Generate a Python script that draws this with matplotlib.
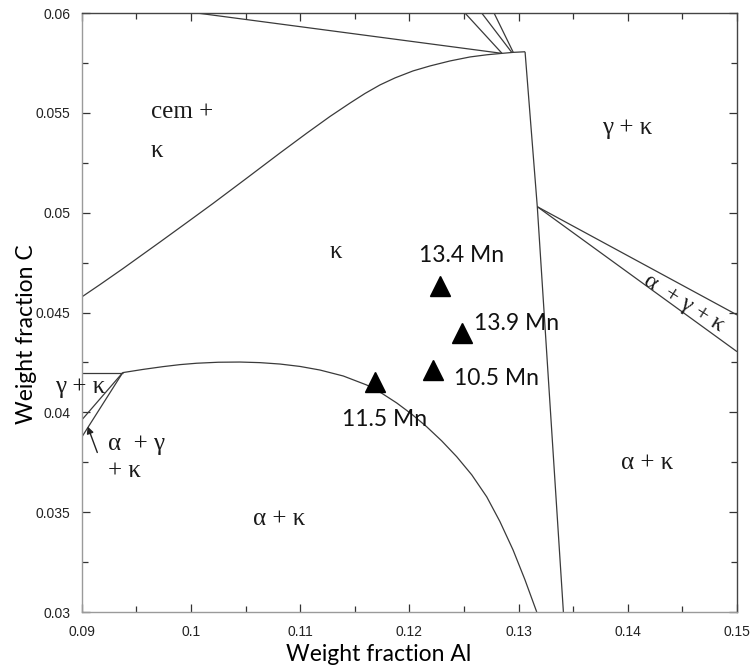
import matplotlib
matplotlib.use("Agg")
import matplotlib.pyplot as plt
from matplotlib.ticker import MultipleLocator

# ---- phase boundary data (weight fraction Al, weight fraction C) ----
cem_kappa_al = [0.0900, 0.09167, 0.09377, 0.09716, 0.09963, 0.10201, 0.10513, 0.10815, 0.11062,
                0.11273, 0.11456, 0.11593, 0.11731, 0.11868, 0.12033, 0.12189, 0.12372, 0.12555,
                0.12711, 0.12848]
cem_kappa_c = [0.04578, 0.04640, 0.04720, 0.04853, 0.04951, 0.05046, 0.05174, 0.05299, 0.05399,
               0.05482, 0.05549, 0.05597, 0.05640, 0.05675, 0.05710, 0.05735, 0.05760, 0.05780,
               0.05791, 0.05798]

top_line_al = [0.10055, 0.12848, 0.12951, 0.13059]
top_line_c = [0.0600, 0.05798, 0.05803, 0.05806]

fan1_al = [0.12509, 0.12848]
fan1_c = [0.0600, 0.05798]
fan2_al = [0.12662, 0.12937]
fan2_c = [0.0600, 0.05803]
fan3_al = [0.12775, 0.12951]
fan3_c = [0.0600, 0.05803]

steep_al = [0.13059, 0.13171, 0.13410]
steep_c = [0.05806, 0.05030, 0.0300]

agk_upper_al = [0.13171, 0.1500]
agk_upper_c = [0.05030, 0.04488]
agk_lower_al = [0.13171, 0.1500]
agk_lower_c = [0.05030, 0.04304]

kappa_alpha_al = [0.09375, 0.09560, 0.09744, 0.09898, 0.10052, 0.10250, 0.10449, 0.10632,
                  0.10815, 0.10998, 0.11181, 0.11395, 0.11609, 0.11746, 0.11884, 0.12021,
                  0.12158, 0.12296, 0.12433, 0.12571, 0.12708, 0.12828, 0.12949, 0.13057,
                  0.13166]
kappa_alpha_c = [0.04199, 0.04215, 0.04229, 0.04239, 0.04246, 0.04251, 0.04252, 0.04249,
                 0.04242, 0.04230, 0.04212, 0.04182, 0.04137, 0.04096, 0.04047, 0.03991,
                 0.03928, 0.03857, 0.03778, 0.03687, 0.03577, 0.03454, 0.03311, 0.03163,
                 0.0300]

left_h_al = [0.0900, 0.09375]
left_h_c = [0.04199, 0.04199]
left_a_al = [0.09375, 0.0900]
left_a_c = [0.04199, 0.03962]
left_b_al = [0.09375, 0.0900]
left_b_c = [0.04199, 0.03876]

# ---- alloy compositions ----
alloy_labels = ["13.4 Mn", "13.9 Mn", "10.5 Mn", "11.5 Mn"]
alloy_al = [0.1228, 0.12484, 0.12219, 0.11685]
alloy_c = [0.04633, 0.04397, 0.04212, 0.04152]

xticks = [0.09, 0.10, 0.11, 0.12, 0.13, 0.14, 0.15]
xtick_labels = ["0.09", "0.1", "0.11", "0.12", "0.13", "0.14", "0.15"]
yticks = [0.03, 0.035, 0.04, 0.045, 0.05, 0.055, 0.06]
ytick_labels = ["0.03", "0.035", "0.04", "0.045", "0.05", "0.055", "0.06"]

fig = plt.figure(figsize=(7.53, 6.68), dpi=100)
ax = fig.add_axes([0.1086, 0.0838, 0.9788 - 0.1086, 0.9805 - 0.0838])
ax.set_xlim(0.09, 0.15)
ax.set_ylim(0.03, 0.06)

lc = "#3a3a3a"
lw = 0.9
for xs, ys in [(cem_kappa_al, cem_kappa_c), (top_line_al, top_line_c),
               (fan1_al, fan1_c), (fan2_al, fan2_c), (fan3_al, fan3_c),
               (steep_al, steep_c), (agk_upper_al, agk_upper_c), (agk_lower_al, agk_lower_c),
               (kappa_alpha_al, kappa_alpha_c), (left_h_al, left_h_c),
               (left_a_al, left_a_c), (left_b_al, left_b_c)]:
    ax.plot(xs, ys, color=lc, lw=lw, solid_capstyle="butt", solid_joinstyle="round")

ax.plot(alloy_al, alloy_c, linestyle="none", marker="^", markersize=14, color="black")

sans = ["Lato", "DejaVu Sans"]
label_pos = {"13.4 Mn": (0.12482, 0.04788), "13.9 Mn": (0.12985, 0.04447),
             "10.5 Mn": (0.12793, 0.0417), "11.5 Mn": (0.11777, 0.03962)}
for lab in alloy_labels:
    x, y = label_pos[lab]
    ax.text(x, y, lab, ha="center", va="center", fontsize=16.5, family=sans, color="#111111")

serif = ["Liberation Serif", "DejaVu Serif"]
tc = "#1a1a1a"
fs = 18
ax.text(0.09634, 0.05474, "cem +", ha="left", va="baseline", fontsize=fs, family=serif, color=tc)
ax.text(0.09634, 0.05279, "κ", ha="left", va="baseline", fontsize=fs, family=serif, color=tc)
ax.text(0.11328, 0.04803, "κ", ha="center", va="center", fontsize=fs, family=serif, color=tc)
ax.text(0.13993, 0.05424, "γ + κ", ha="center", va="center", fontsize=fs, family=serif, color=tc)
ax.text(0.14176, 0.03746, "α + κ", ha="center", va="center", fontsize=fs, family=serif, color=tc)
ax.text(0.10806, 0.03466, "α + κ", ha="center", va="center", fontsize=fs, family=serif, color=tc)
ax.text(0.08984, 0.04127, "γ + κ", ha="center", va="center", fontsize=fs, family=serif, color=tc,
        clip_on=False)
ax.text(0.0924, 0.03841, "α  + γ", ha="left", va="center", fontsize=fs, family=serif, color=tc)
ax.text(0.0924, 0.03704, "+ κ", ha="left", va="center", fontsize=fs, family=serif, color=tc)
ax.text(0.14515, 0.04548, "α  + γ + κ", ha="center", va="center", fontsize=fs - 1, family=serif,
        color=tc, rotation=-32)

ax.annotate("", xy=(0.09045, 0.03942), xytext=(0.09151, 0.03786),
            arrowprops=dict(arrowstyle="-|>", color="#222222", lw=1.0, mutation_scale=10))

ax.set_xticks(xticks)
ax.set_xticklabels(xtick_labels)
ax.set_yticks(yticks)
ax.set_yticklabels(ytick_labels)
ax.xaxis.set_minor_locator(MultipleLocator(0.005))
ax.yaxis.set_minor_locator(MultipleLocator(0.0025))
ax.tick_params(which="both", direction="in", top=True, right=True, color="#333333", width=0.9)
ax.tick_params(which="major", length=6)
ax.tick_params(which="minor", length=4)
ax.tick_params(axis="x", pad=9)
ax.tick_params(axis="y", pad=8)
for lab in ax.get_xticklabels() + ax.get_yticklabels():
    lab.set_family(["Liberation Sans", "DejaVu Sans"])
    lab.set_fontsize(10)
    lab.set_color("#222222")

ax.spines["left"].set_color("#9a9a9a")
ax.spines["bottom"].set_color("#9a9a9a")
ax.spines["top"].set_color("#444444")
ax.spines["right"].set_color("#444444")
for s in ax.spines.values():
    s.set_linewidth(1.0)

ax.set_xlabel("Weight fraction Al", family=sans, fontsize=16.5)
ax.set_ylabel("Weight fraction C", family=sans, fontsize=16.5)
ax.xaxis.set_label_coords(0.4536, -0.0534)
ax.yaxis.set_label_coords(-0.068, 0.464)

fig.savefig("out.png", dpi=100)
